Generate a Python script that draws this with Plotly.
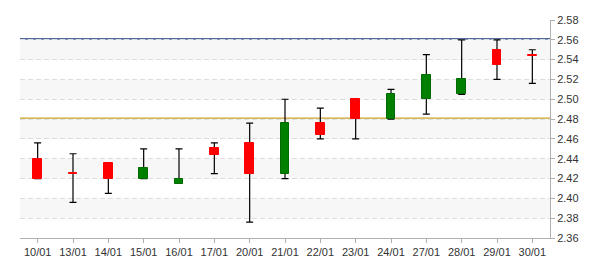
import plotly.graph_objects as go

dates = ["10/01", "13/01", "14/01", "15/01", "16/01", "17/01", "20/01", "21/01",
         "22/01", "23/01", "24/01", "27/01", "28/01", "29/01", "30/01"]
opens = [2.440, 2.426, 2.436, 2.420, 2.415, 2.4505, 2.456, 2.425,
         2.476, 2.500, 2.480, 2.500, 2.505, 2.550, 2.545]
closes = [2.420, 2.425, 2.420, 2.431, 2.420, 2.444, 2.425, 2.476,
          2.464, 2.480, 2.505, 2.525, 2.520, 2.535, 2.544]
highs = [2.456, 2.445, 2.436, 2.450, 2.450, 2.456, 2.476, 2.500,
         2.491, 2.500, 2.510, 2.545, 2.560, 2.560, 2.550]
lows = [2.420, 2.396, 2.405, 2.420, 2.415, 2.425, 2.376, 2.420,
        2.460, 2.460, 2.480, 2.485, 2.505, 2.520, 2.516]

ref_levels = [2.561, 2.481]
ref_colors = ["#1a3a7c", "#c9a227"]
band_edges = [(2.38, 2.40), (2.42, 2.44), (2.46, 2.48), (2.50, 2.52), (2.54, 2.56)]
y_range = [2.36, 2.58]

UP_FILL, UP_LINE = "#008000", "#006a00"
DN_FILL, DN_LINE = "#ff0000", "#ff0000"

mid = [(h + l) / 2 for h, l in zip(highs, lows)]
half = [(h - l) / 2 for h, l in zip(highs, lows)]
body = [c - o for o, c in zip(opens, closes)]
up = [c > o for o, c in zip(opens, closes)]

fig = go.Figure()
fig.add_trace(go.Scatter(
    x=dates, y=mid, mode="markers", marker=dict(size=0.1, opacity=0),
    error_y=dict(type="data", array=half, symmetric=True, color="black",
                 thickness=1.2, width=3.5),
    hoverinfo="skip", showlegend=False, xaxis="x", yaxis="y"))
fig.add_trace(go.Bar(
    x=dates, y=body, base=opens, width=0.25,
    marker=dict(color=[UP_FILL if u else DN_FILL for u in up],
                line=dict(color=[UP_LINE if u else DN_LINE for u in up], width=1)),
    showlegend=False, xaxis="x2", yaxis="y2"))

shapes = []
for lo, hi in band_edges:
    shapes.append(dict(type="rect", xref="paper", yref="y", x0=0, x1=1, y0=lo, y1=hi,
                       fillcolor="#f7f7f7", line=dict(width=0), layer="below"))
for lvl, col in zip(ref_levels, ref_colors):
    shapes.append(dict(type="line", xref="paper", yref="y", x0=0, x1=1, y0=lvl, y1=lvl,
                       line=dict(color=col, width=1.1), layer="between"))

font = dict(family="Liberation Sans, Arial, sans-serif", size=11, color="#333333")
fig.update_layout(
    width=600, height=270, margin=dict(l=20, r=50, t=20, b=30),
    paper_bgcolor="white", plot_bgcolor="white", font=font,
    shapes=shapes, bargap=0,
    xaxis=dict(type="category", categoryorder="array", categoryarray=dates,
               range=[-0.5, len(dates) - 0.5], showgrid=False, showline=True,
               linecolor="#b0b0b0", linewidth=1, ticks="outside", ticklen=4,
               tickcolor="#b0b0b0", zeroline=False, fixedrange=True),
    xaxis2=dict(type="category", categoryorder="array", categoryarray=dates,
                range=[-0.5, len(dates) - 0.5], overlaying="x", visible=False),
    yaxis=dict(side="right", range=y_range, dtick=0.02, tick0=2.36, tickformat=".2f",
               showgrid=True, gridcolor="#dddddd", griddash="5px,3px", gridwidth=1,
               showline=True, linecolor="#b0b0b0", linewidth=1, ticks="outside",
               ticklen=4, tickcolor="#b0b0b0", zeroline=False),
    yaxis2=dict(range=y_range, overlaying="y", visible=False, side="right"),
)
fig.write_html("out.html")
